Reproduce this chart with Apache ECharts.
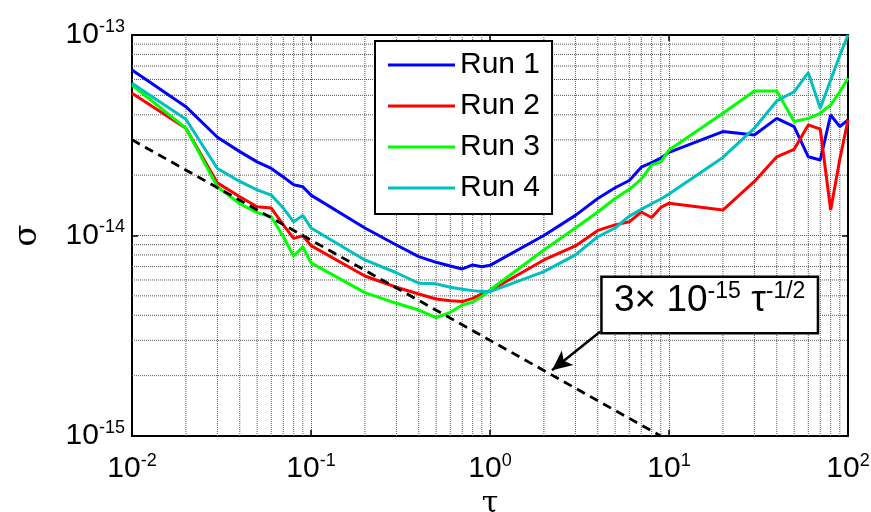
<!DOCTYPE html>
<html>
<head>
<meta charset="utf-8">
<script src="https://cdn.jsdelivr.net/npm/echarts@6/dist/echarts.min.js"></script>
<style>
  html, body { margin: 0; padding: 0; background: #fff; }
  #chart { width: 871px; height: 512px; }
</style>
</head>
<body>
<div id="chart"></div>
<script>
// averaging times (s)
const tau = [0.01, 0.02, 0.03, 0.04, 0.05, 0.06, 0.07, 0.08, 0.09, 0.1,
  0.2, 0.3, 0.4, 0.5, 0.6, 0.7, 0.8, 0.9, 1,
  2, 3, 4, 5, 6, 7, 8, 9, 10,
  20, 30, 40, 50, 60, 70, 80, 90, 100];

const run1 = [6.69e-14, 4.39e-14, 3.09e-14, 2.62e-14, 2.33e-14, 2.16e-14, 1.96e-14, 1.79e-14, 1.75e-14, 1.59e-14,
  1.09e-14, 8.97e-15, 7.84e-15, 7.35e-15, 7.05e-15, 6.81e-15, 7.13e-15, 6.99e-15, 7.1e-15,
  1.0e-14, 1.26e-14, 1.53e-14, 1.73e-14, 1.88e-14, 2.19e-14, 2.31e-14, 2.43e-14, 2.6e-14,
  3.30e-14, 3.17e-14, 3.84e-14, 3.49e-14, 2.47e-14, 2.38e-14, 3.99e-14, 3.49e-14, 3.77e-14];

const run2 = [5.12e-14, 3.43e-14, 1.83e-14, 1.56e-14, 1.39e-14, 1.37e-14, 1.13e-14, 9.68e-15, 9.97e-15, 8.9e-15,
  6.28e-15, 5.52e-15, 5.11e-15, 4.82e-15, 4.73e-15, 4.68e-15, 4.86e-15, 5.11e-15, 5.3e-15,
  7.55e-15, 8.87e-15, 1.06e-14, 1.13e-14, 1.17e-14, 1.31e-14, 1.23e-14, 1.38e-14, 1.45e-14,
  1.34e-14, 1.86e-14, 2.47e-14, 2.69e-14, 3.56e-14, 3.39e-14, 1.34e-14, 2.4e-14, 3.77e-14];

const run3 = [5.63e-14, 3.43e-14, 1.75e-14, 1.44e-14, 1.30e-14, 1.24e-14, 9.86e-15, 7.9e-15, 8.79e-15, 7.3e-15,
  5.19e-15, 4.59e-15, 4.25e-15, 3.89e-15, 4.14e-15, 4.50e-15, 4.65e-15, 4.96e-15, 5.35e-15,
  8.47e-15, 1.09e-14, 1.31e-14, 1.53e-14, 1.70e-14, 1.91e-14, 2.25e-14, 2.33e-14, 2.67e-14,
  4.07e-14, 5.26e-14, 5.26e-14, 3.70e-14, 3.84e-14, 4.07e-14, 4.48e-14, 5.21e-14, 6.08e-14];

const run4 = [5.74e-14, 3.80e-14, 2.16e-14, 1.86e-14, 1.69e-14, 1.59e-14, 1.37e-14, 1.17e-14, 1.26e-14, 1.09e-14,
  7.55e-15, 6.52e-15, 5.78e-15, 5.74e-15, 5.52e-15, 5.39e-15, 5.31e-15, 5.25e-15, 5.25e-15,
  6.6e-15, 8.0e-15, 9.86e-15, 1.09e-14, 1.25e-14, 1.35e-14, 1.44e-14, 1.52e-14, 1.61e-14,
  2.45e-14, 3.43e-14, 4.69e-14, 5.21e-14, 6.49e-14, 4.31e-14, 5.96e-14, 7.9e-14, 1.0e-13];

// 3e-15 * tau^-1/2 reference, end points as drawn (clipped at 1e-15)
const refTau = [0.01, 9];
const refSigma = [3e-14, 1e-15];

// minor grid positions
const xMinor = [0.02, 0.03, 0.04, 0.05, 0.06, 0.07, 0.08, 0.09,
  0.2, 0.3, 0.4, 0.5, 0.6, 0.7, 0.8, 0.9,
  2, 3, 4, 5, 6, 7, 8, 9,
  20, 30, 40, 50, 60, 70, 80, 90];
const yMinor = [2e-15, 3e-15, 4e-15, 5e-15, 6e-15, 7e-15, 8e-15, 9e-15,
  2e-14, 3e-14, 4e-14, 5e-14, 6e-14, 7e-14, 8e-14, 9e-14];

const runNames = ['Run 1', 'Run 2', 'Run 3', 'Run 4'];
const runData = [run1, run2, run3, run4];
const runColors = ['#0000ff', '#ff0000', '#00ff00', '#00bfbf'];

const sans = '"Liberation Sans", Arial, Helvetica, sans-serif';
const serif = '"DejaVu Serif", "Liberation Serif", serif';
const gridLine = { color: '#555', width: 1, type: [1, 1] };

function powLabel(v) {
  const e = Math.round(Math.log10(v));
  return '{base|10}{sup|' + e + '}';
}
const powRich = {
  base: { fontSize: 30, fontFamily: sans, color: '#000', lineHeight: 34 },
  sup: { fontSize: 18, fontFamily: sans, color: '#000', lineHeight: 18, verticalAlign: 'top' }
};

const chart = echarts.init(document.getElementById('chart'));

const series = [];

// dotted minor grid lines, drawn through the axes' own scales
xMinor.forEach(v => {
  series.push({
    type: 'line', silent: true, symbol: 'none', z: 1,
    data: [[v, 1e-15], [v, 1e-13]],
    lineStyle: gridLine
  });
});
yMinor.forEach(v => {
  series.push({
    type: 'line', silent: true, symbol: 'none', z: 1,
    data: [[0.01, v], [100, v]],
    lineStyle: gridLine
  });
});

runNames.forEach((name, i) => {
  series.push({
    name: name,
    type: 'line',
    data: tau.map((t, k) => [t, runData[i][k]]),
    symbol: 'none',
    z: 3,
    lineStyle: { color: runColors[i], width: 3 },
    itemStyle: { color: runColors[i] }
  });
});

series.push({
  name: 'ref',
  type: 'line',
  data: refTau.map((t, k) => [t, refSigma[k]]),
  symbol: 'none',
  z: 4,
  lineStyle: { color: '#000', width: 2.8, type: [9, 6] },
  markLine: {
    silent: true,
    symbol: ['none', 'arrow'],
    symbolSize: [14, 20],
    label: { show: false },
    lineStyle: { color: '#000', width: 2.5, type: 'solid' },
    animation: false,
    data: [[{ coord: [4.12, 3.31e-15] }, { coord: [2.22, 2.13e-15] }]]
  },
  markPoint: {
    silent: true,
    symbol: 'rect',
    symbolSize: 1,
    itemStyle: { color: 'rgba(0,0,0,0)' },
    label: {
      show: true,
      position: 'inside',
      backgroundColor: '#fff',
      borderColor: '#000',
      borderWidth: 2.5,
      width: 206,
      height: 50,
      align: 'center',
      padding: [2, 4, 2, 4],
      formatter: '{a|3× 10}{e|-15}{a| τ}{e|-1/2}',
      rich: {
        a: { fontSize: 37, fontFamily: sans, color: '#000', lineHeight: 42 },
        e: { fontSize: 23, fontFamily: sans, color: '#000', lineHeight: 22, verticalAlign: 'top' }
      }
    },
    data: [{ coord: [16.88, 4.5e-15] }]
  }
});

chart.setOption({
  animation: false,
  backgroundColor: '#fff',
  grid: { left: 132, right: 23, top: 35, bottom: 76, containLabel: false, outerBoundsMode: 'none' },
  legend: {
    data: runNames,
    orient: 'vertical',
    left: 375,
    top: 41,
    padding: [9, 12, 11, 13],
    itemGap: 11,
    itemWidth: 67,
    itemHeight: 20,
    backgroundColor: '#fff',
    borderColor: '#000',
    borderWidth: 2,
    borderRadius: 0,
    textStyle: { fontSize: 30, fontFamily: sans, color: '#000' },
    icon: 'path://M0,8.5 L67,8.5 L67,11.5 L0,11.5 Z'
  },
  xAxis: [{
    type: 'log',
    min: 0.01,
    max: 100,
    logBase: 10,
    name: 'τ',
    nameLocation: 'middle',
    nameGap: 45,
    nameTextStyle: { fontSize: 30, fontFamily: serif, color: '#000' },
    axisLine: { show: true, lineStyle: { color: '#000', width: 2 } },
    axisTick: { inside: true, length: 6, lineStyle: { color: '#000', width: 1.5 } },
    axisLabel: { margin: 16, fontSize: 30, fontFamily: sans, color: '#000', formatter: powLabel, rich: powRich },
    splitLine: { show: true, lineStyle: gridLine }
  }, {
    type: 'log',
    position: 'top',
    min: 0.01,
    max: 100,
    axisLine: { show: true, lineStyle: { color: '#000', width: 2 } },
    axisTick: { inside: true, length: 6, lineStyle: { color: '#000', width: 1.5 } },
    axisLabel: { show: false },
    splitLine: { show: false }
  }],
  yAxis: [{
    type: 'log',
    min: 1e-15,
    max: 1e-13,
    logBase: 10,
    name: 'σ',
    nameLocation: 'middle',
    nameGap: 88,
    nameRotate: 90,
    nameTextStyle: { fontSize: 32, fontFamily: serif, color: '#000' },
    axisLine: { show: true, lineStyle: { color: '#000', width: 2 } },
    axisTick: { inside: true, length: 6, lineStyle: { color: '#000', width: 1.5 } },
    axisLabel: { margin: 7, fontSize: 30, fontFamily: sans, color: '#000', formatter: powLabel, rich: powRich },
    splitLine: { show: true, lineStyle: gridLine }
  }, {
    type: 'log',
    position: 'right',
    min: 1e-15,
    max: 1e-13,
    axisLine: { show: true, lineStyle: { color: '#000', width: 2 } },
    axisTick: { inside: true, length: 6, lineStyle: { color: '#000', width: 1.5 } },
    axisLabel: { show: false },
    splitLine: { show: false }
  }],
  series: series
});
</script>
</body>
</html>
